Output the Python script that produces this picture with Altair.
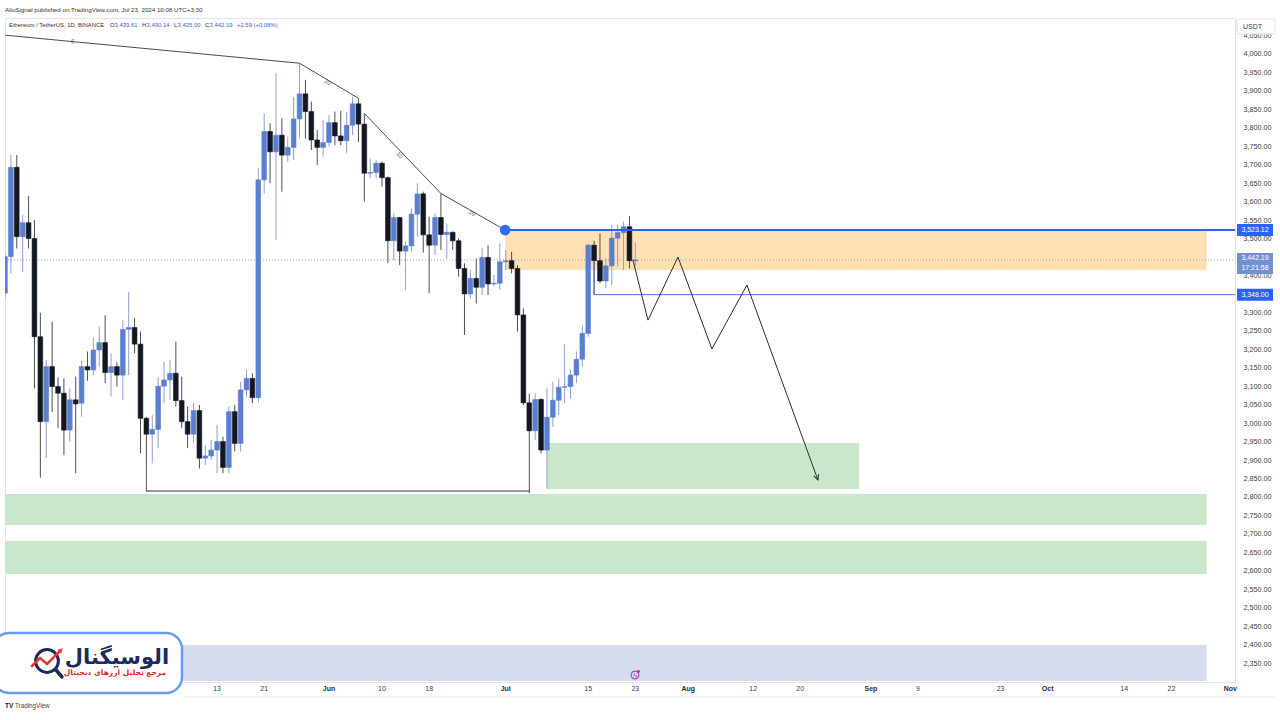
import altair as alt
import pandas as pd

# ---------------- data ----------------
START = "2024-04-07"
opens = [3352, 3451, 3693, 3505, 3543, 3500, 3234, 3004, 3153, 3099,
         3081, 2981, 3063, 3054, 3153, 3144, 3198, 3218, 3137, 3153,
         3130, 3254, 3259, 3214, 3013, 2970, 2983, 3100, 3117, 3135,
         3061, 3004, 2970, 3034, 2905, 2911, 2927, 2950, 2880, 3031,
         2945, 3090, 3121, 3069, 3659, 3790, 3735, 3780, 3726, 3747,
         3824, 3892, 3844, 3767, 3747, 3760, 3814, 3778, 3765, 3807,
         3865, 3810, 3677, 3679, 3704, 3665, 3494, 3557, 3466, 3480,
         3566, 3621, 3510, 3482, 3557, 3511, 3517, 3494, 3419, 3350,
         3392, 3368, 3449, 3377, 3379, 3437, 3440, 3419, 3293, 3055,
         2979, 3064, 2927, 3016, 3062, 3097, 3099, 3130, 3173, 3243,
         3482, 3440, 3385, 3426, 3501, 3516, 3532, 3439.61]
closes = [3451, 3693, 3505, 3543, 3500, 3234, 3004, 3153, 3099, 3081,
          2981, 3063, 3052, 3153, 3144, 3198, 3218, 3137, 3153, 3130,
          3254, 3259, 3214, 3013, 2970, 2983, 3100, 3117, 3135, 3061,
          3004, 2970, 3034, 2905, 2911, 2927, 2950, 2880, 3031, 2945,
          3090, 3121, 3069, 3659, 3790, 3735, 3780, 3726, 3747, 3824,
          3892, 3844, 3767, 3747, 3760, 3814, 3778, 3765, 3807, 3865,
          3810, 3677, 3679, 3704, 3665, 3494, 3557, 3466, 3480, 3566,
          3621, 3510, 3482, 3557, 3511, 3517, 3494, 3419, 3350, 3392,
          3368, 3449, 3377, 3379, 3437, 3440, 3419, 3293, 3055, 2979,
          3064, 2927, 3016, 3062, 3097, 3099, 3130, 3173, 3243, 3482,
          3440, 3385, 3426, 3501, 3516, 3532, 3440, 3442.19]
highs = [3460, 3726, 3726, 3564, 3615, 3550, 3299, 3171, 3275, 3124,
         3121, 3094, 3126, 3169, 3194, 3232, 3261, 3292, 3189, 3166,
         3279, 3356, 3284, 3248, 3017, 3022, 3124, 3166, 3171, 3221,
         3126, 3045, 3054, 3049, 2941, 2954, 2995, 2963, 3045, 3049,
         3112, 3144, 3135, 3690, 3839, 3812, 3948, 3826, 3776, 3884,
         3975, 3930, 3871, 3794, 3821, 3835, 3844, 3846, 3844, 3884,
         3880, 3839, 3717, 3713, 3708, 3668, 3568, 3559, 3492, 3582,
         3650, 3627, 3559, 3568, 3622, 3541, 3519, 3500, 3433, 3415,
         3446, 3474, 3482, 3401, 3487, 3469, 3464, 3428, 3311, 3080,
         3081, 3067, 3094, 3112, 3121, 3214, 3144, 3194, 3266, 3487,
         3494, 3514, 3446, 3537, 3537, 3546, 3561, 3490.14]
lows = [3338, 3406, 3473, 3410, 3473, 3094, 2852, 2905, 3030, 2986,
        2913, 2950, 2864, 3017, 3115, 3130, 3153, 3108, 3072, 3099,
        3063, 3130, 3189, 2918, 2815, 2891, 2932, 3054, 3063, 3045,
        2986, 2932, 2945, 2877, 2886, 2900, 2864, 2864, 2864, 2923,
        2923, 3070, 3054, 3054, 3622, 3650, 3496, 3627, 3708, 3713,
        3771, 3771, 3740, 3699, 3722, 3749, 3753, 3753, 3731, 3780,
        3762, 3600, 3663, 3663, 3641, 3433, 3442, 3428, 3361, 3464,
        3505, 3462, 3352, 3455, 3469, 3446, 3469, 3397, 3239, 3338,
        3324, 3347, 3347, 3370, 3361, 3415, 3406, 3248, 3049, 2810,
        2954, 2918, 2823, 2990, 3022, 3054, 3067, 3108, 3153, 3234,
        3347, 3379, 3365, 3374, 3424, 3415, 3419, 3425.00]

# price-axis labels (those hidden under the price tags are left out)
price_ticks = [p for p in range(2350, 4051, 50) if p not in (3350, 3450)]

# x-axis tick labels (dates) and their text
tick_dates = ["2024-05-13", "2024-05-21", "2024-06-01", "2024-06-10", "2024-06-18",
              "2024-07-01", "2024-07-15", "2024-07-23", "2024-08-01", "2024-08-12",
              "2024-08-20", "2024-09-01", "2024-09-09", "2024-09-23", "2024-10-01",
              "2024-10-14", "2024-10-22", "2024-11-01"]
tick_text = ["13", "21", "Jun", "10", "18", "Jul", "15", "23", "Aug", "12",
             "20", "Sep", "9", "23", "Oct", "14", "22", "Nov"]
tick_month = [0, 0, 1, 0, 0, 1, 0, 0, 1, 0, 0, 1, 0, 0, 1, 0, 0, 1]

# drawn zones (day offset from START, prices)
zone_d0 = [84.9, 92.0, 0.0, 0.0, 0.0]
zone_d1 = [204.0, 145.0, 204.0, 204.0, 204.0]
zone_top = [3523.12, 2946, 2808, 2681, 2399]
zone_bot = [3415, 2821, 2724, 2591, 2301]
zone_fill = ["#ffe0b2", "#c9e7ca", "#c9e7ca", "#c9e7ca", "#d6ddef"]

# trend lines (two polylines)
trend_grp = ["a", "a", "a", "b", "b", "b"]
trend_d = [0.0, 50.0, 60.0, 61.0, 74.0, 84.9]
trend_p = [4051, 3975, 3880, 3839, 3622, 3523.12]
trend_lbl = ["5", "10", "10", "10"]
trend_lbl_d = [11.5, 54.8, 67.0, 79.3]
trend_lbl_p = [4034, 3924, 3726, 3569]
trend_lbl_ang = [5, 31, 46, 31]

# projected zig-zag path
zig_d = [106.6, 109.15, 114.24, 120.0, 125.95, 138.0]
zig_p = [3442, 3279, 3450, 3201, 3374, 2846]

LEVEL = 3523.12
SUPPORT = 3348.00
LAST = 3442.19
BASE = 2816

# ---------------- frames ----------------
t0 = pd.Timestamp(START)
dates = pd.date_range(START, periods=len(opens), freq="D")
day = [(t - t0).days for t in dates]
candles = pd.DataFrame({"d": day, "open": opens, "close": closes, "high": highs, "low": lows})
up = candles["close"] >= candles["open"]
candles["body"] = ["#5b7fcf" if u else "#131722" for u in up]
candles["wick"] = ["#8d9fd0" if u else "#4a4e57" for u in up]

ticks = pd.DataFrame({"d": [(pd.Timestamp(s) - t0).days for s in tick_dates],
                      "t": tick_text, "m": tick_month})
zones = pd.DataFrame({"d0": zone_d0, "d1": zone_d1, "top": zone_top, "bot": zone_bot, "fill": zone_fill})
trend = pd.DataFrame({"g": trend_grp, "d": trend_d, "p": trend_p, "o": list(range(len(trend_d)))})
trend_labels = pd.DataFrame({"t": trend_lbl, "d": trend_lbl_d, "p": trend_lbl_p, "a": trend_lbl_ang})
zig = pd.DataFrame({"d": zig_d, "p": zig_p, "o": list(range(len(zig_d)))})

W, H = 1230, 664
X_DOM = [0.0, 208.8]
Y_DOM = [2298.6, 4097.5]
PPP = H / (Y_DOM[1] - Y_DOM[0])  # pixels per price unit

xs = alt.Scale(domain=X_DOM, nice=False, zero=False)
ys = alt.Scale(domain=Y_DOM, nice=False, zero=False)
yaxis = alt.Axis(orient="right", values=price_ticks, format=",.2f",
                 labelFontSize=7.2, labelColor="#3d3d3d", labelFont="Liberation Sans",
                 ticks=False, domain=False, grid=False, labelPadding=8, title=None,
                 labelOverlap=False, labelBound=False, labelFlush=False)


def X(f):
    return alt.X(f, type="quantitative", scale=xs, axis=None, title=None)


def Y(f):
    return alt.Y(f, type="quantitative", scale=ys, axis=yaxis, title=None)


one = pd.DataFrame({"k": [0]})

zone_layer = alt.Chart(zones).mark_rect(clip=True).encode(
    x=X("d0"), x2="d1", y=Y("top"), y2="bot", fill=alt.Color("fill:N", scale=None))

last_line = alt.Chart(pd.DataFrame({"p": [LAST], "a": [X_DOM[0]], "b": [X_DOM[1]]})).mark_rule(
    color="#9aa4b8", strokeWidth=1, strokeDash=[1, 2]).encode(x=X("a"), x2="b", y=Y("p"))

wicks = alt.Chart(candles).mark_rule(strokeWidth=1, clip=True).encode(
    x=X("d"), y=Y("low"), y2="high", color=alt.Color("wick:N", scale=None))

bodies = alt.Chart(candles).transform_calculate(
    x0="datum.d - 0.4", x1="datum.d + 0.4").mark_rect(clip=True, strokeWidth=0.6).encode(
    x=X("x0"), x2="x1", y=Y("open"), y2="close",
    fill=alt.Color("body:N", scale=None), stroke=alt.Color("body:N", scale=None))

trend_layer = alt.Chart(trend).mark_line(color="#4d4d4d", strokeWidth=1, clip=True).encode(
    x=X("d"), y=Y("p"), detail="g:N", order="o:Q")

trend_text = alt.Chart(trend_labels).mark_text(fontSize=6, color="#555555", baseline="middle").encode(
    x=X("d"), y=Y("p"), text="t:N", angle=alt.Angle("a:Q", scale=None))

level = alt.Chart(pd.DataFrame({"p": [LEVEL], "a": [84.9], "b": [X_DOM[1]]})).mark_rule(
    color="#2962ff", strokeWidth=2).encode(x=X("a"), x2="b", y=Y("p"))
level_dot = alt.Chart(pd.DataFrame({"p": [LEVEL], "a": [84.9]})).mark_circle(
    size=115, color="#2f6cf3", opacity=1).encode(x=X("a"), y=Y("p"))

support_h = alt.Chart(pd.DataFrame({"p": [SUPPORT], "a": [100.0], "b": [X_DOM[1]]})).mark_rule(
    color="#4a6fd6", strokeWidth=1).encode(x=X("a"), x2="b", y=Y("p"))
support_v = alt.Chart(pd.DataFrame({"a": [100.0], "p0": [closes[100]], "p1": [SUPPORT]})).mark_rule(
    color="#4a6fd6", strokeWidth=1).encode(x=X("a"), y=Y("p0"), y2="p1")

base_line = alt.Chart(pd.DataFrame({"p": [BASE], "a": [24.0], "b": [89.0]})).mark_rule(
    color="#333333", strokeWidth=1).encode(x=X("a"), x2="b", y=Y("p"))

zig_layer = alt.Chart(zig).mark_line(color="#2b2b2b", strokeWidth=1).encode(
    x=X("d"), y=Y("p"), order="o:Q")
arrow = alt.Chart(zig.tail(1)).mark_point(
    shape="M-0.5,1L0,0L0.5,1", angle=160, size=110, filled=False, color="#2b2b2b",
    strokeWidth=1, opacity=1).encode(x=X("d"), y=Y("p"))

xlabels_day = alt.Chart(ticks).transform_filter("datum.m == 0").mark_text(
    fontSize=7, color="#3d3d3d", baseline="middle").encode(x=X("d"), y=alt.value(671), text="t:N")
xlabels_mon = alt.Chart(ticks).transform_filter("datum.m == 1").mark_text(
    fontSize=7, color="#2d2d2d", fontWeight="bold", baseline="middle").encode(
    x=X("d"), y=alt.value(671), text="t:N")

# price tags on the right axis
tag_df = pd.DataFrame({"p": [LEVEL, SUPPORT]})
tags = alt.Chart(tag_df).transform_calculate(
    top=f"datum.p + {6 / PPP}", bot=f"datum.p - {6 / PPP}").mark_rect(color="#2962ff").encode(
    x=alt.value(1232), x2=alt.value(1268), y=Y("top"), y2="bot")
tag_txt = alt.Chart(tag_df).mark_text(color="white", fontSize=7, align="center", baseline="middle").encode(
    x=alt.value(1250), y=Y("p"), text=alt.Text("p:Q", format=",.2f"))

last_df = pd.DataFrame({"p": [LAST], "clock": ["17:21:58"]})
last_tag = alt.Chart(last_df).transform_calculate(
    top=f"datum.p + {7 / PPP}", bot=f"datum.p - {14 / PPP}").mark_rect(color="#7191d3").encode(
    x=alt.value(1232), x2=alt.value(1268), y=Y("top"), y2="bot")
last_txt1 = alt.Chart(last_df).mark_text(color="white", fontSize=7, baseline="middle", dy=-1.5).encode(
    x=alt.value(1250), y=Y("p"), text=alt.Text("p:Q", format=",.2f"))
last_txt2 = alt.Chart(last_df).mark_text(color="white", fontSize=7, baseline="middle", dy=8.5).encode(
    x=alt.value(1250), y=Y("p"), text="clock:N")

usdt_box = alt.Chart(one).mark_rect(fill="white", stroke="#e0e3eb", strokeWidth=1).encode(
    x=alt.value(1232), x2=alt.value(1270), y=alt.value(1), y2=alt.value(16))
usdt_txt = alt.Chart(one).mark_text(text="USDT", fontSize=7, color="#3d3d3d", align="left",
                                    baseline="middle").encode(x=alt.value(1238), y=alt.value(8.5))

# header
header1 = alt.Chart(one).mark_text(
    text="AlioSignal published on TradingView.com, Jul 23, 2024 10:08 UTC+3:30",
    fontSize=6.2, color="#333333", align="left", baseline="middle").encode(x=alt.value(0), y=alt.value(-8))
hdr_items = [("Ethereum / TetherUS, 1D, BINANCE", 4, "#333333"),
             ("O", 105, "#333333"), ("3,439.61", 109.5, "#3b63c4"),
             ("H", 137, "#333333"), ("3,490.14", 141.5, "#3b63c4"),
             ("L", 169, "#333333"), ("3,425.00", 172.5, "#3b63c4"),
             ("C", 200, "#333333"), ("3,442.19", 204.5, "#3b63c4"),
             ("+2.59 (+0.08%)", 232, "#3b63c4")]
header2 = [alt.Chart(one).mark_text(text=t, fontSize=5.9, color=c, align="left", baseline="middle").encode(
    x=alt.value(xv), y=alt.value(7)) for t, xv, c in hdr_items]

# purple event icon
icon1 = alt.Chart(one).mark_point(shape="circle", size=60, filled=False, color="#a54ac6",
                                  strokeWidth=1.2, opacity=1).encode(x=alt.value(630), y=alt.value(657))
icon2 = alt.Chart(one).mark_text(text="ϟ", fontSize=7, color="#a54ac6").encode(
    x=alt.value(630), y=alt.value(657.5))
icon3 = alt.Chart(one).mark_circle(size=8, color="#e53935", opacity=1).encode(
    x=alt.value(633.5), y=alt.value(653.5))

# bottom separator + TradingView footer
sep = alt.Chart(one).mark_rule(color="#e6e8ee", strokeWidth=1).encode(
    x=alt.value(178), x2=alt.value(1270), y=alt.value(679))
footer_tv = alt.Chart(one).mark_text(text="TV", fontSize=6.5, fontWeight="bold", color="#222222",
                                     align="left", baseline="middle").encode(x=alt.value(0), y=alt.value(688))
footer = alt.Chart(one).mark_text(text="TradingView", fontSize=6.3, color="#444444",
                                  align="left", baseline="middle").encode(x=alt.value(10), y=alt.value(688))

# logo badge
logo_box = alt.Chart(one).mark_rect(fill="white", stroke="#6b9bf0", strokeWidth=2.5, cornerRadius=16).encode(
    x=alt.value(-12), x2=alt.value(177), y=alt.value(615), y2=alt.value(675))
logo_title = alt.Chart(one).mark_text(text="الوسیگنال", font="DejaVu Sans", fontSize=21, fontWeight="bold",
                                      color="#1c2a5e", align="center", baseline="middle").encode(
    x=alt.value(112), y=alt.value(640))
logo_sub = alt.Chart(one).mark_text(text="مرجع تحلیل ارزهای دیجیتال", font="DejaVu Sans", fontSize=7.5,
                                    fontWeight="bold", color="#e02a2a", align="center", baseline="middle").encode(
    x=alt.value(110), y=alt.value(655))
logo_ring = alt.Chart(one).mark_point(shape="circle", size=520, filled=False, color="#1c2a5e",
                                      strokeWidth=3, opacity=1).encode(x=alt.value(42), y=alt.value(643))
logo_parts = [logo_ring]
for (a, b, c, d_, col, w) in [(51, 652, 57, 659, "#1c2a5e", 3.5),
                              (27, 648, 35, 640, "#e53935", 2.5),
                              (35, 640, 42, 646, "#e53935", 2.5),
                              (42, 646, 55, 633, "#e53935", 2.5)]:
    logo_parts.append(alt.Chart(one).mark_rule(color=col, strokeWidth=w, strokeCap="round").encode(
        x=alt.value(a), y=alt.value(b), x2=alt.value(c), y2=alt.value(d_)))
logo_parts.append(alt.Chart(one).mark_point(shape="triangle-up", size=30, filled=True, color="#e53935",
                                            angle=45, opacity=1).encode(x=alt.value(56), y=alt.value(632)))

chart = alt.layer(
    zone_layer, last_line, wicks, bodies, trend_layer, trend_text, support_v, support_h,
    base_line, zig_layer, arrow, level, level_dot, xlabels_day, xlabels_mon, tags, tag_txt, last_tag,
    last_txt1, last_txt2, usdt_box, usdt_txt, header1, *header2, icon1, icon2, icon3,
    sep, footer_tv, footer, logo_box, logo_title, logo_sub, *logo_parts
).properties(
    width=W, height=H,
    padding={"left": 5, "top": 18, "right": 45, "bottom": 38},
    autosize=alt.AutoSizeParams(type="none"),
).configure(font="Liberation Sans", background="white").configure_view(
    stroke="#e0e3eb", strokeWidth=1)

chart.save("out.html", embed_options={"renderer": "svg", "actions": False})
